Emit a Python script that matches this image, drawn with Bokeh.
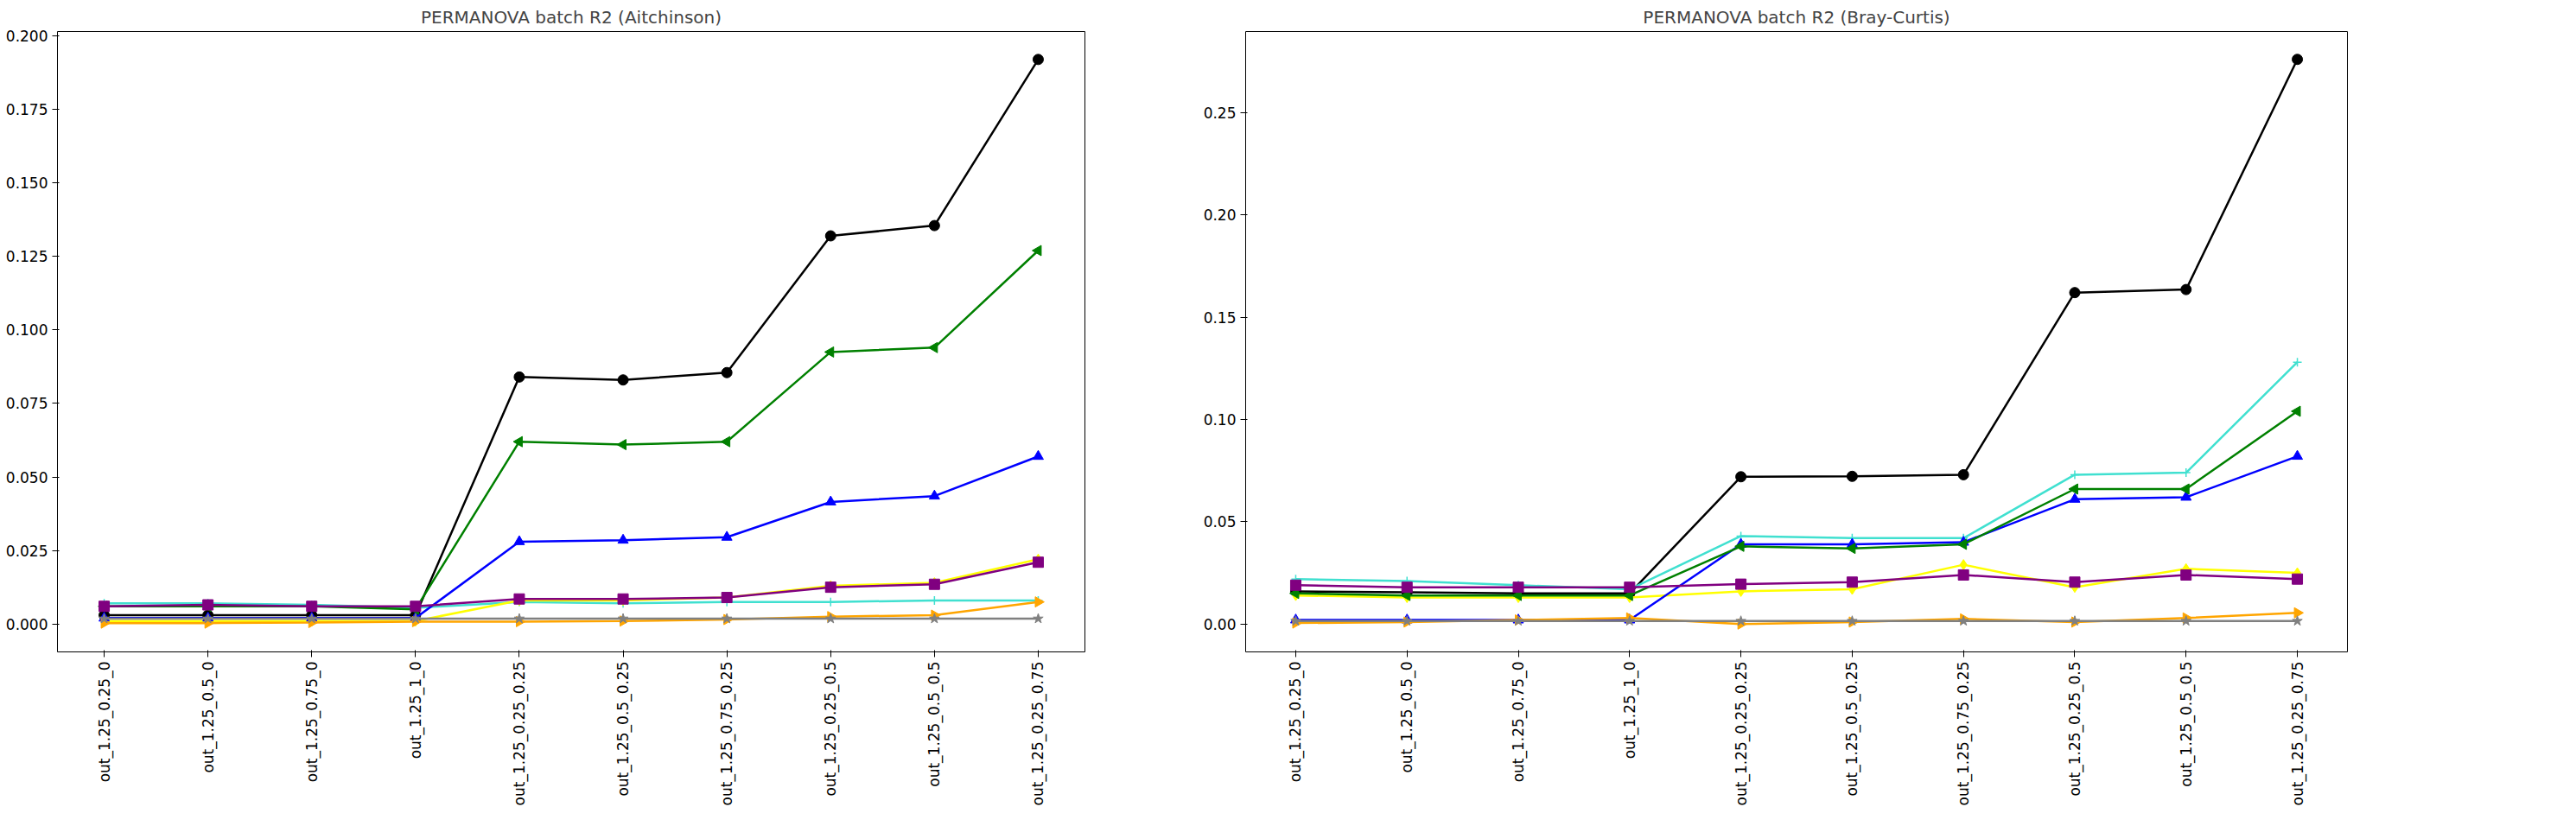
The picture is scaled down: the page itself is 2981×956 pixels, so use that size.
import math
from bokeh.plotting import figure
from bokeh.layouts import row
from bokeh.models import Range1d, FixedTicker, NumeralTickFormatter, Legend, LegendItem
from bokeh.embed import file_html
from bokeh.resources import INLINE

conditions = ['out_1.25_0.25_0', 'out_1.25_0.5_0', 'out_1.25_0.75_0', 'out_1.25_1_0',
              'out_1.25_0.25_0.25', 'out_1.25_0.5_0.25', 'out_1.25_0.75_0.25',
              'out_1.25_0.25_0.5', 'out_1.25_0.5_0.5', 'out_1.25_0.25_0.75']

methods = ['nobc', 'harmony', 'combat_seq', 'limma', 'MMUPHin', 'ConQuR',
           'ConQuR_libsize', 'percentile_norm']
colors = ['black', 'turquoise', 'yellow', 'blue', 'green', 'orange', 'purple', 'gray']
markers = ['circle', 'cross', 'diamond', 'triangle', 'triangle', 'triangle', 'square', 'star']
angles = [0, 0, 0, 0, math.pi / 2, -math.pi / 2, 0, 0]

# Aitchinson
ait_nobc = [0.003, 0.003, 0.003, 0.003, 0.084, 0.083, 0.0855, 0.132, 0.1355, 0.192]
ait_harmony = [0.007, 0.007, 0.0065, 0.0055, 0.0075, 0.007, 0.0075, 0.0075, 0.008, 0.008]
ait_combat = [0.001, 0.001, 0.001, 0.001, 0.008, 0.008, 0.009, 0.013, 0.014, 0.022]
ait_limma = [0.002, 0.002, 0.002, 0.002, 0.028, 0.0285, 0.0295, 0.0415, 0.0435, 0.057]
ait_mmuphin = [0.006, 0.006, 0.006, 0.005, 0.062, 0.061, 0.062, 0.0925, 0.094, 0.127]
ait_conqur = [0.0003, 0.0003, 0.0005, 0.0008, 0.0008, 0.001, 0.0015, 0.0025, 0.003, 0.0075]
ait_libsize = [0.006, 0.0065, 0.006, 0.006, 0.0085, 0.0085, 0.009, 0.0125, 0.0135, 0.021]
ait_pnorm = [0.0018, 0.0018, 0.0018, 0.0018, 0.0018, 0.0018, 0.0018, 0.0018, 0.0018, 0.0018]

# Bray-Curtis
bc_nobc = [0.016, 0.0155, 0.015, 0.015, 0.072, 0.0722, 0.073, 0.162, 0.1635, 0.276]
bc_harmony = [0.022, 0.021, 0.019, 0.017, 0.043, 0.042, 0.042, 0.073, 0.074, 0.128]
bc_combat = [0.014, 0.013, 0.013, 0.013, 0.016, 0.017, 0.029, 0.018, 0.027, 0.025]
bc_limma = [0.002, 0.002, 0.002, 0.002, 0.039, 0.039, 0.040, 0.061, 0.062, 0.082]
bc_mmuphin = [0.015, 0.014, 0.014, 0.014, 0.038, 0.037, 0.039, 0.066, 0.066, 0.104]
bc_conqur = [0.0005, 0.001, 0.002, 0.003, 0.0, 0.001, 0.0025, 0.001, 0.003, 0.0055]
bc_libsize = [0.019, 0.018, 0.018, 0.018, 0.0195, 0.0205, 0.024, 0.0205, 0.024, 0.022]
bc_pnorm = [0.0015, 0.0015, 0.0015, 0.0015, 0.0015, 0.0015, 0.0015, 0.0015, 0.0015, 0.0015]

ait = [ait_nobc, ait_harmony, ait_combat, ait_limma, ait_mmuphin, ait_conqur, ait_libsize, ait_pnorm]
bc = [bc_nobc, bc_harmony, bc_combat, bc_limma, bc_mmuphin, bc_conqur, bc_libsize, bc_pnorm]

xs = list(range(len(conditions)))


def make_plot(title, series, ymin, ymax, ticks, fmt, width, border_right, legend_x):
    p = figure(title=title, width=width, height=935, output_backend="svg",
               toolbar_location=None, x_range=Range1d(-0.45, 9.45),
               y_range=Range1d(ymin, ymax), min_border_left=66,
               min_border_right=border_right)
    p.title.align = "center"
    p.title.text_font_size = "20px"
    p.title.text_font_style = "normal"
    p.title.text_font = "DejaVu Sans"
    p.xgrid.visible = False
    p.ygrid.visible = False
    p.outline_line_color = "black"
    p.xaxis.ticker = FixedTicker(ticks=xs)
    p.xaxis.major_label_overrides = {i: c for i, c in enumerate(conditions)}
    p.xaxis.major_label_orientation = math.pi / 2
    p.yaxis.ticker = FixedTicker(ticks=ticks)
    p.yaxis.formatter = NumeralTickFormatter(format=fmt)
    for ax in (p.xaxis, p.yaxis):
        ax.major_label_text_font_size = "17px"
        ax.major_label_text_font = "DejaVu Sans"
        ax.major_label_text_color = "black"
        ax.minor_tick_line_color = None
        ax.axis_line_color = None
    items = []
    for name, vals, c, m, a in zip(methods, series, colors, markers, angles):
        ln = p.line(xs, vals, line_color=c, line_width=2.5)
        sc = p.scatter(xs, vals, marker=m, angle=a, size=12 if m != 'cross' else 10,
                       fill_color=c, line_color=c, line_width=1 if m != 'cross' else 1.5)
        items.append(LegendItem(label=name, renderers=[ln, sc]))
    if legend_x is not None:
        lg = Legend(items=items, location=(legend_x, 295), label_text_font_size="17px",
                    label_text_font="DejaVu Sans", spacing=0, padding=6,
                    glyph_height=20, label_height=20, border_line_color="#cccccc",
                    border_radius=4)
        p.add_layout(lg)
    return p


left = make_plot("PERMANOVA batch R2 (Aitchinson)", ait, -0.0095, 0.2015,
                 [0, 0.025, 0.05, 0.075, 0.1, 0.125, 0.15, 0.175, 0.2], "0.000",
                 1375, 120, None)
right = make_plot("PERMANOVA batch R2 (Bray-Curtis)", bc, -0.0136, 0.2896,
                  [0, 0.05, 0.1, 0.15, 0.2, 0.25], "0.00", 1581, 240, 1290)

p = row(left, right)
open("out.html", "w").write(file_html(p, INLINE))
